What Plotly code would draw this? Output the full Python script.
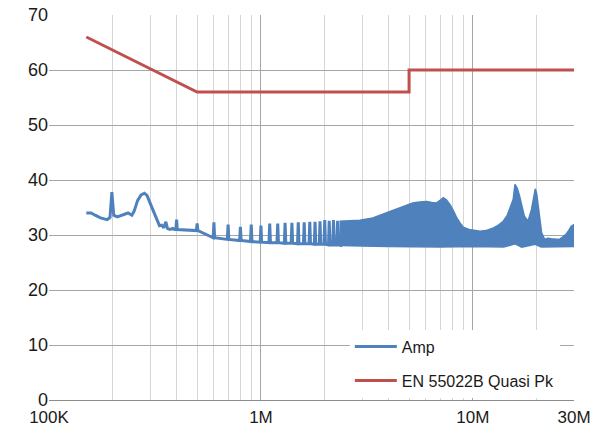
import plotly.graph_objects as go

# ---------------- data ----------------
# Low-frequency part of the measured spectrum (kHz, dBuV)
low_freq_khz = [150, 158, 165, 175, 188, 194, 198, 202, 210, 222, 236, 246, 252, 262,
                272, 282, 290, 300, 312, 322, 332, 340, 348, 356, 362, 372, 384, 392]
low_amp = [34.0, 34.0, 33.6, 33.1, 32.8, 33.2, 37.8, 33.6, 33.3, 33.7, 34.0, 33.6, 34.3, 36.3,
           37.3, 37.6, 37.2, 35.8, 34.2, 32.6, 31.7, 31.8, 31.3, 32.4, 31.2, 31.0, 31.2, 31.0]

# Harmonic comb (switching harmonics), MHz
comb_freq_mhz = [0.4, 0.5, 0.6, 0.7, 0.8, 0.9, 1.0, 1.1, 1.2, 1.3, 1.4, 1.5, 1.6, 1.7,
                 1.8, 1.9, 2.0, 2.1, 2.2, 2.3, 2.4]
comb_peak = [32.8, 32.1, 32.3, 31.9, 31.5, 31.9, 31.7, 32.1, 32.1, 32.2, 32.2, 32.3, 32.3, 32.4,
             32.4, 32.5, 32.7, 32.6, 32.7, 32.6, 32.5]
comb_floor = [31.0, 30.8, 29.5, 29.2, 29.0, 28.8, 28.7, 28.6, 28.6, 28.5, 28.5, 28.4, 28.4, 28.4,
              28.3, 28.3, 28.3, 28.2, 28.2, 28.2, 28.1]

# Dense high-frequency band: upper envelope (MHz, dBuV)
band_top_mhz = [2.35, 2.6, 2.93, 3.37, 3.6, 3.93, 4.2, 4.51, 4.85, 5.2, 5.6, 6.06, 6.4, 6.71,
                7.0, 7.25, 7.5, 7.8, 8.1, 8.4, 8.7, 9.0, 9.6, 10.8, 11.5, 12.5, 13.2, 13.9,
                14.5, 14.9, 15.5, 15.8, 16.2, 16.6, 17.1, 17.5, 18.2, 18.9, 19.3, 19.7, 20.0,
                20.3, 21.1, 21.8, 22.5, 23.5, 24.5, 25.6, 26.5, 27.5, 28.3, 29.1, 30.0]
band_top = [32.5, 32.6, 32.7, 33.1, 33.5, 34.0, 34.4, 34.9, 35.3, 35.8, 36.0, 36.1, 35.9, 35.8,
            36.3, 36.8, 36.4, 35.5, 34.4, 33.1, 32.2, 31.4, 31.0, 30.7, 30.8, 31.3, 31.8, 32.5,
            33.5, 34.6, 36.5, 39.2, 38.5, 37.1, 35.0, 33.4, 32.5, 34.6, 36.5, 38.4, 37.5,
            35.2, 30.4, 29.2, 29.4, 29.3, 29.2, 29.2, 29.6, 30.1, 30.8, 31.6, 31.9]
# lower envelope
band_bot_mhz = [2.35, 3.0, 4.0, 5.0, 7.0, 10.0, 14.0, 15.8, 17.0, 19.7, 21.0, 30.0]
band_bot = [28.1, 28.0, 27.9, 27.8, 27.8, 27.9, 27.8, 28.4, 27.8, 28.3, 27.8, 27.9]

# EN 55022B quasi-peak limit (MHz, dBuV)
limit_freq_mhz = [0.15, 0.5, 5.0, 5.0, 30.0]
limit_val = [66, 56, 56, 60, 60]

# axis ticks
x_tickvals = [1e5, 1e6, 1e7, 3e7]
x_ticktext = ["100K", "1M", "10M", "30M"]
x_minor = [2e5, 3e5, 4e5, 5e5, 6e5, 7e5, 8e5, 9e5,
           2e6, 3e6, 4e6, 5e6, 6e6, 7e6, 8e6, 9e6, 2e7]

BLUE = "#4F81BD"
RED = "#C0504D"

# ---------------- build traces ----------------
amp_x = [f * 1e3 for f in low_freq_khz]
amp_y = list(low_amp)
SPIKE_W = 0.008  # spike half-width (relative)
for f, pk, fl in zip(comb_freq_mhz, comb_peak, comb_floor):
    fh = f * 1e6
    amp_x += [fh * (1 - SPIKE_W), fh, fh * (1 + SPIKE_W)]
    amp_y += [fl, pk, fl]

band_x = [f * 1e6 for f in band_top_mhz] + [f * 1e6 for f in band_bot_mhz[::-1]]
band_y = band_top + band_bot[::-1]

fig = go.Figure()
fig.add_trace(go.Scatter(
    x=band_x, y=band_y, mode="lines", fill="toself", fillcolor=BLUE,
    line=dict(color=BLUE, width=1.5), legendgroup="amp", showlegend=False,
    hoverinfo="skip"))
fig.add_trace(go.Scatter(
    x=amp_x, y=amp_y, mode="lines", name="Amp", legendgroup="amp",
    line=dict(color=BLUE, width=3)))
fig.add_trace(go.Scatter(
    x=[f * 1e6 for f in limit_freq_mhz], y=limit_val, mode="lines",
    name="EN 55022B Quasi Pk", legendgroup="lim",
    line=dict(color=RED, width=3)))

# invisible trace on an overlay axis to hold the darker decade gridlines
fig.add_trace(go.Scatter(x=[1e6], y=[0], xaxis="x2", mode="markers",
                         marker=dict(opacity=0), showlegend=False, hoverinfo="skip"))

FONT = "Liberation Sans, Arial, sans-serif"
fig.update_layout(
    width=598, height=431,
    margin=dict(l=49, r=24, t=15, b=31, autoexpand=False),
    paper_bgcolor="white", plot_bgcolor="white",
    font=dict(family=FONT, color="#1a1a1a"),
    xaxis=dict(
        type="log", range=[5, 7.47712], tickvals=x_tickvals, ticktext=x_ticktext,
        automargin=False,
        showgrid=True, gridcolor="#d6d6d6", gridwidth=1,
        minor=dict(tickvals=x_minor, showgrid=True, gridcolor="#d6d6d6", gridwidth=1, ticklen=0),
        showline=True, linecolor="#8c8c8c", linewidth=1, ticks="",
        ticklabelstandoff=2,
        tickfont=dict(size=17, family=FONT, color="#1a1a1a"), zeroline=False,
    ),
    xaxis2=dict(
        type="log", range=[5, 7.47712], overlaying="x", tickvals=[1e6, 1e7],
        automargin=False,
        showticklabels=False, showgrid=True, gridcolor="#a6a6a6", gridwidth=1,
        ticks="", showline=False, zeroline=False,
    ),
    yaxis=dict(
        range=[0, 70], dtick=10, showgrid=True, gridcolor="#a6a6a6", gridwidth=1,
        automargin=False,
        showline=False, zeroline=False, ticks="",
        tickfont=dict(size=18, family=FONT, color="#1a1a1a"),
    ),
    legend=dict(
        x=0.573, y=0.006, xanchor="left", yanchor="bottom",
        bgcolor="white", borderwidth=0, tracegroupgap=10, itemwidth=42,
        font=dict(size=16, family=FONT, color="#1a1a1a"),
    ),
    showlegend=True,
)

fig.write_html(
    "out.html",
    config={"displayModeBar": False},
    post_script="document.body.style.margin='0';document.body.style.padding='0';"
                "document.documentElement.style.overflow='hidden';",
)
